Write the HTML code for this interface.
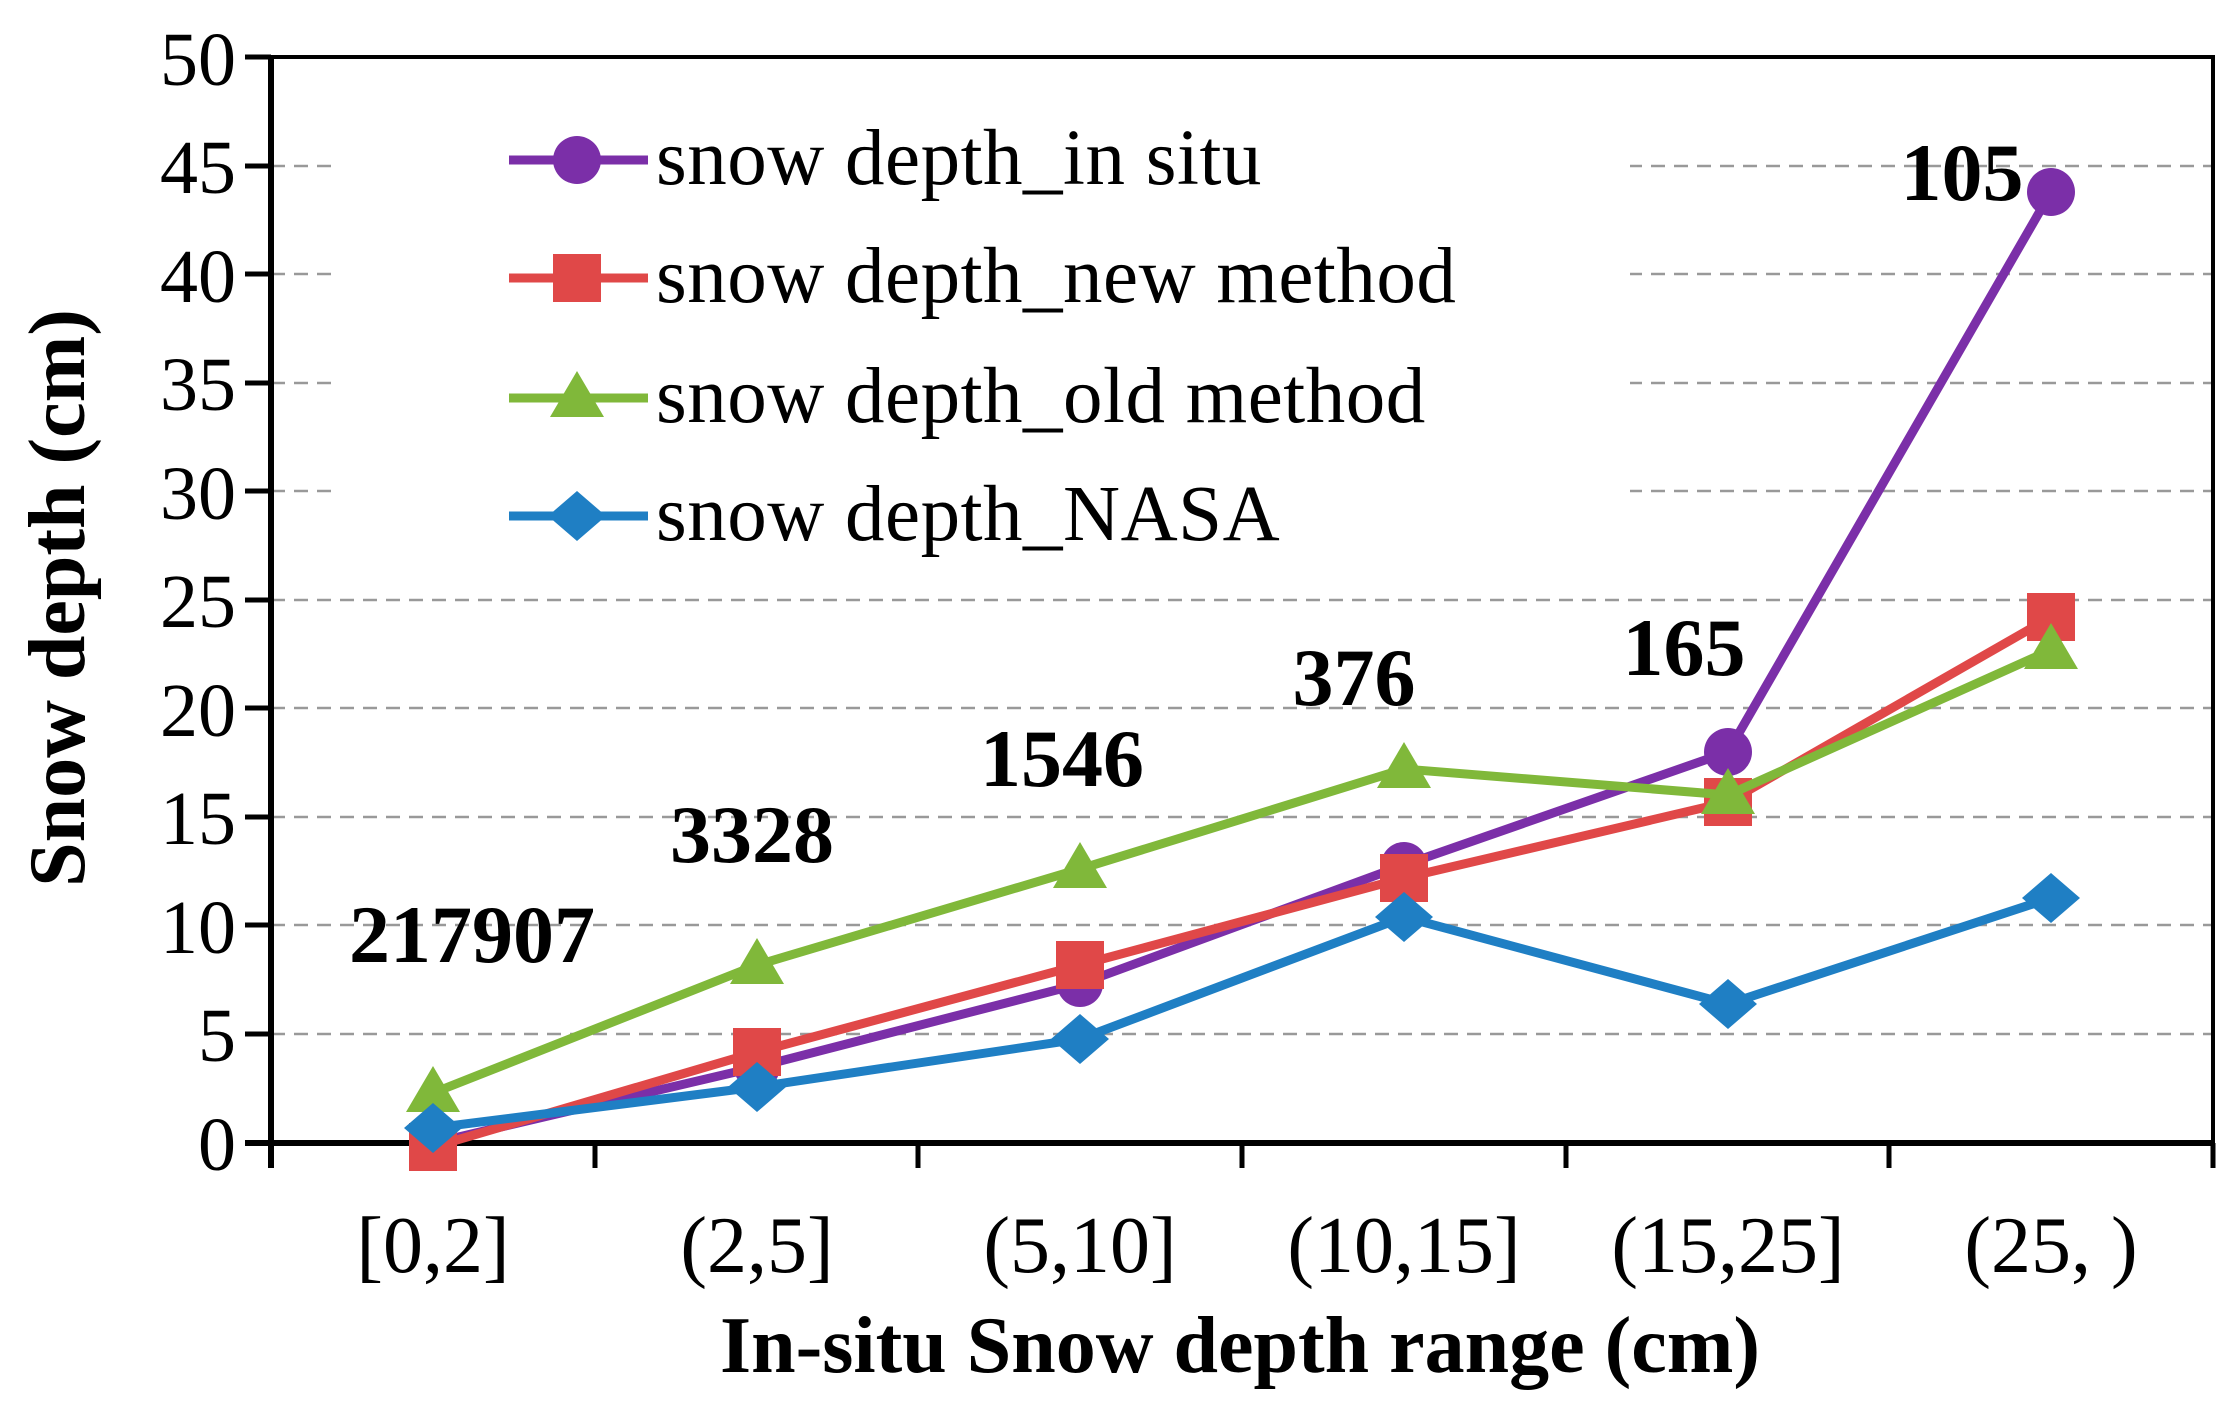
<!DOCTYPE html>
<html><head><meta charset="utf-8"><style>html,body{margin:0;padding:0;background:#fff}svg{display:block}</style></head><body>
<svg width="2234" height="1410" viewBox="0 0 2234 1410" xmlns="http://www.w3.org/2000/svg" font-family="Liberation Serif, serif">
<rect width="2234" height="1410" fill="#fff"/>
<g stroke="#999" stroke-width="2.5" stroke-dasharray="14,9">
<line x1="271" y1="1034" x2="2213" y2="1034"/>
<line x1="271" y1="925" x2="2213" y2="925"/>
<line x1="271" y1="817" x2="2213" y2="817"/>
<line x1="271" y1="708" x2="2213" y2="708"/>
<line x1="271" y1="600" x2="2213" y2="600"/>
<line x1="271" y1="491" x2="2213" y2="491"/>
<line x1="271" y1="383" x2="2213" y2="383"/>
<line x1="271" y1="274" x2="2213" y2="274"/>
<line x1="271" y1="166" x2="2213" y2="166"/>
</g>
<rect x="340" y="80" width="1290" height="490" fill="#fff"/>
<rect x="271" y="57" width="1942" height="1086" fill="none" stroke="#000" stroke-width="4"/>
<line x1="271" y1="55" x2="271" y2="1168" stroke="#000" stroke-width="6"/>
<line x1="245" y1="1143" x2="2213" y2="1143" stroke="#000" stroke-width="6"/>
<g stroke="#000" stroke-width="5">
<line x1="245" y1="57" x2="271" y2="57"/><line x1="245" y1="166" x2="271" y2="166"/><line x1="245" y1="274" x2="271" y2="274"/><line x1="245" y1="383" x2="271" y2="383"/><line x1="245" y1="491" x2="271" y2="491"/><line x1="245" y1="600" x2="271" y2="600"/><line x1="245" y1="708" x2="271" y2="708"/><line x1="245" y1="817" x2="271" y2="817"/><line x1="245" y1="925" x2="271" y2="925"/><line x1="245" y1="1034" x2="271" y2="1034"/>
<line x1="595" y1="1143" x2="595" y2="1168"/><line x1="918" y1="1143" x2="918" y2="1168"/><line x1="1242" y1="1143" x2="1242" y2="1168"/><line x1="1566" y1="1143" x2="1566" y2="1168"/><line x1="1889" y1="1143" x2="1889" y2="1168"/><line x1="2213" y1="1143" x2="2213" y2="1168"/>
</g>
<g font-size="76" text-anchor="end" fill="#000">
<text x="236" y="1170">0</text><text x="236" y="1061">5</text><text x="236" y="953">10</text><text x="236" y="844">15</text><text x="236" y="736">20</text><text x="236" y="627">25</text><text x="236" y="519">30</text><text x="236" y="410">35</text><text x="236" y="302">40</text><text x="236" y="193">45</text><text x="236" y="85">50</text>
</g>
<g font-size="80" text-anchor="middle" fill="#000">
<text x="433" y="1272">[0,2]</text><text x="757" y="1272">(2,5]</text><text x="1080" y="1272">(5,10]</text><text x="1404" y="1272">(10,15]</text><text x="1728" y="1272">(15,25]</text><text x="2051" y="1272">(25, )</text>
</g>
<text x="1240" y="1372" font-size="80" font-weight="bold" text-anchor="middle">In-situ Snow depth range (cm)</text>
<text transform="translate(84,598) rotate(-90)" font-size="80" font-weight="bold" text-anchor="middle">Snow depth (cm)</text>
<polyline points="433,1143 757,1067 1080,984 1404,865 1728,752 2051,192" fill="none" stroke="#7b2fa8" stroke-width="9"/>
<g fill="#7b2fa8"><circle cx="757" cy="1067" r="23"/><circle cx="1080" cy="984" r="23"/><circle cx="1404" cy="865" r="23"/><circle cx="1728" cy="752" r="24"/><circle cx="2051" cy="192" r="24"/></g>
<polyline points="433,1147 757,1052 1080,965 1404,878 1728,802 2051,617" fill="none" stroke="#e04848" stroke-width="9"/>
<g fill="#e04848"><rect x="409" y="1123" width="48" height="48"/><rect x="733" y="1028" width="48" height="48"/><rect x="1056" y="941" width="48" height="48"/><rect x="1380" y="854" width="48" height="48"/><rect x="1704" y="778" width="48" height="48"/><rect x="2027" y="593" width="48" height="48"/></g>
<polyline points="433,1093 757,965 1080,869 1404,769 1728,795 2051,650" fill="none" stroke="#80b83a" stroke-width="9"/>
<g fill="#80b83a"><polygon points="433,1066 460,1112 406,1112"/><polygon points="757,938 784,984 730,984"/><polygon points="1080,842 1107,888 1053,888"/><polygon points="1404,742 1431,788 1377,788"/><polygon points="1728,768 1755,814 1701,814"/><polygon points="2051,623 2078,669 2024,669"/></g>
<polyline points="433,1128 757,1087 1080,1039 1404,917 1728,1004 2051,898" fill="none" stroke="#1f7fc4" stroke-width="9"/>
<g fill="#1f7fc4"><polygon points="433,1103 462,1128 433,1153 404,1128"/><polygon points="757,1062 786,1087 757,1112 728,1087"/><polygon points="1080,1014 1109,1039 1080,1064 1051,1039"/><polygon points="1404,892 1433,917 1404,942 1375,917"/><polygon points="1728,979 1757,1004 1728,1029 1699,1004"/><polygon points="2051,873 2080,898 2051,923 2022,898"/></g>
<g font-size="82" font-weight="bold" text-anchor="middle">
<text x="472" y="962">217907</text><text x="752" y="862">3328</text><text x="1062" y="786">1546</text><text x="1354" y="705">376</text><text x="1684" y="675">165</text><text x="1962" y="200">105</text>
</g>
<g stroke-width="9" fill="none"><line x1="509" y1="160" x2="648" y2="160" stroke="#7b2fa8"/><line x1="509" y1="278" x2="648" y2="278" stroke="#e04848"/><line x1="509" y1="398" x2="648" y2="398" stroke="#80b83a"/><line x1="509" y1="516" x2="648" y2="516" stroke="#1f7fc4"/></g>
<circle cx="577" cy="160" r="24" fill="#7b2fa8"/>
<rect x="553" y="254" width="48" height="48" fill="#e04848"/>
<polygon points="577,371 604,417 550,417" fill="#80b83a"/>
<polygon points="577,491 606,516 577,541 548,516" fill="#1f7fc4"/>
<g font-size="79" fill="#000" letter-spacing="0.5">
<text x="656" y="184">snow depth_in situ</text><text x="656" y="302">snow depth_new method</text><text x="656" y="422">snow depth_old method</text><text x="656" y="540">snow depth_NASA</text>
</g>
</svg>
</body></html>
